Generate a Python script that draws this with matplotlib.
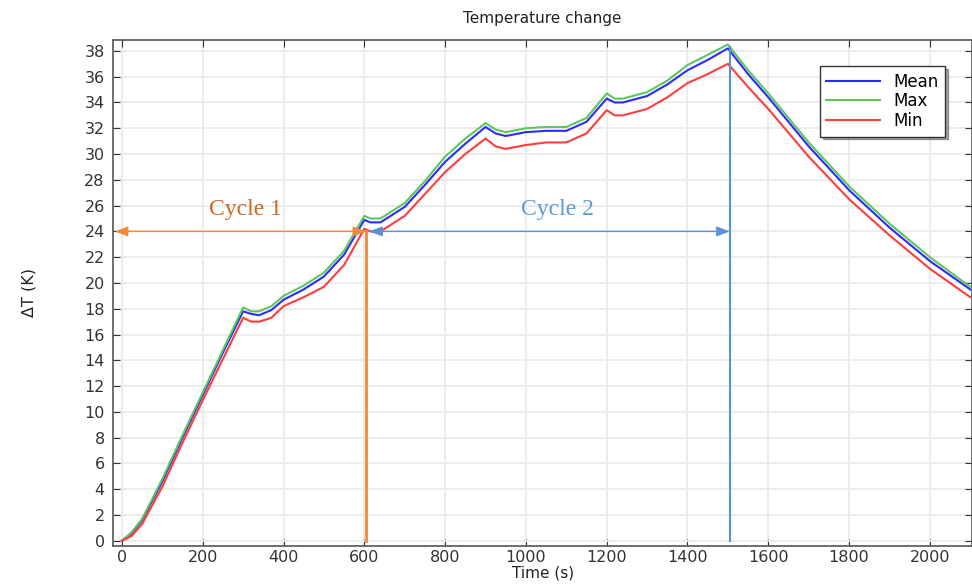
import matplotlib.pyplot as plt

# time points (s)
t = [0, 25, 50, 100, 150, 200, 250, 300, 320, 340, 370, 400, 450, 500, 550, 600,
     615, 640, 700, 750, 800, 850, 900, 925, 950, 1000, 1050, 1100, 1150, 1200,
     1220, 1240, 1300, 1350, 1400, 1450, 1500, 1550, 1600, 1700, 1800, 1900, 2000, 2100]

mean_T = [0, 0.6, 1.6, 4.6, 8.0, 11.3, 14.6, 17.8, 17.6, 17.5, 17.9, 18.7, 19.5, 20.5, 22.2, 24.9,
          24.7, 24.7, 25.9, 27.6, 29.4, 30.8, 32.1, 31.6, 31.4, 31.7, 31.8, 31.8, 32.5, 34.3,
          34.0, 34.0, 34.5, 35.4, 36.5, 37.3, 38.2, 36.2, 34.4, 30.6, 27.2, 24.3, 21.7, 19.5]

max_T = [0, 0.7, 1.7, 4.8, 8.2, 11.5, 14.8, 18.1, 17.8, 17.8, 18.2, 19.0, 19.8, 20.8, 22.5, 25.2,
         25.0, 25.0, 26.2, 27.9, 29.8, 31.2, 32.4, 31.9, 31.7, 32.0, 32.1, 32.1, 32.8, 34.7,
         34.3, 34.3, 34.8, 35.7, 36.9, 37.7, 38.5, 36.5, 34.7, 30.9, 27.5, 24.6, 22.0, 19.7]

min_T = [0, 0.4, 1.3, 4.2, 7.6, 10.9, 14.1, 17.3, 17.0, 17.0, 17.3, 18.2, 18.9, 19.7, 21.4, 24.2,
         24.0, 24.0, 25.2, 26.9, 28.6, 30.0, 31.2, 30.6, 30.4, 30.7, 30.9, 30.9, 31.6, 33.4,
         33.0, 33.0, 33.5, 34.4, 35.5, 36.2, 37.0, 35.2, 33.5, 29.8, 26.5, 23.7, 21.1, 18.9]

# cycle markers
cycle1 = (-18, 605)
cycle2 = (612, 1505)
arrow_y = 24
peak_T = 38.3

fig = plt.figure(figsize=(9.72, 5.85), dpi=100)
ax = fig.add_axes([0.1163, 0.0667, 0.884, 0.865])

ax.plot(t, mean_T, color='#2b2bff', lw=1.5, label='Mean', zorder=3)
ax.plot(t, max_T, color='#5cc85c', lw=1.5, label='Max', zorder=3)
ax.plot(t, min_T, color='#ff3d3d', lw=1.5, label='Min', zorder=3)

orange = '#f08a3c'
blue = '#5b8fd8'
ax.plot([cycle1[1], cycle1[1]], [0, arrow_y], color=orange, lw=2, zorder=4)
ax.plot([cycle2[1], cycle2[1]], [0, peak_T], color=blue, lw=1.5, zorder=4)
ax.annotate('', xy=(cycle1[0], arrow_y), xytext=(cycle1[1], arrow_y),
            arrowprops=dict(arrowstyle='<|-|>,head_length=0.8,head_width=0.3',
                            color=orange, lw=1, shrinkA=0, shrinkB=0), zorder=5)
ax.annotate('', xy=(cycle2[0], arrow_y), xytext=(cycle2[1], arrow_y),
            arrowprops=dict(arrowstyle='<|-|>,head_length=0.8,head_width=0.3',
                            color=blue, lw=1, shrinkA=0, shrinkB=0), zorder=5)
ax.text(305, 25.7, 'Cycle 1', color='#c8682a', fontsize=17, family='Liberation Serif',
        ha='center', va='center')
ax.text(1078, 25.7, 'Cycle 2', color='#5b9bd5', fontsize=17, family='Liberation Serif',
        ha='center', va='center')

ax.set_xlim(-22, 2105)
ax.set_ylim(-0.4, 38.85)
ax.set_xticks(range(0, 2001, 200))
ax.set_yticks(range(0, 39, 2))
ax.grid(color='#ebebeb', lw=1.3)
ax.set_axisbelow(True)
ax.tick_params(direction='in', top=True, right=True, length=5, labelsize=11.5,
               colors='#333333', labelcolor='#333333')
ax.tick_params(axis='x', pad=3)
ax.tick_params(axis='y', pad=6)
for s in ax.spines.values():
    s.set_color('#555555')
    s.set_linewidth(1.2)

ax.set_title('Temperature change', fontsize=11, color='#222222', pad=12)
ax.set_xlabel('Time (s)', fontsize=11, color='#222222', labelpad=0)
ax.set_ylabel('ΔT (K)', fontsize=11.5, color='#222222', labelpad=34)

leg = ax.legend(loc='upper right', bbox_to_anchor=(0.978, 0.965), fontsize=12,
                fancybox=False, shadow=True, framealpha=1, edgecolor='#333333',
                handlelength=3.2, borderpad=0.4, labelspacing=0.1)

plt.savefig('out.png')
